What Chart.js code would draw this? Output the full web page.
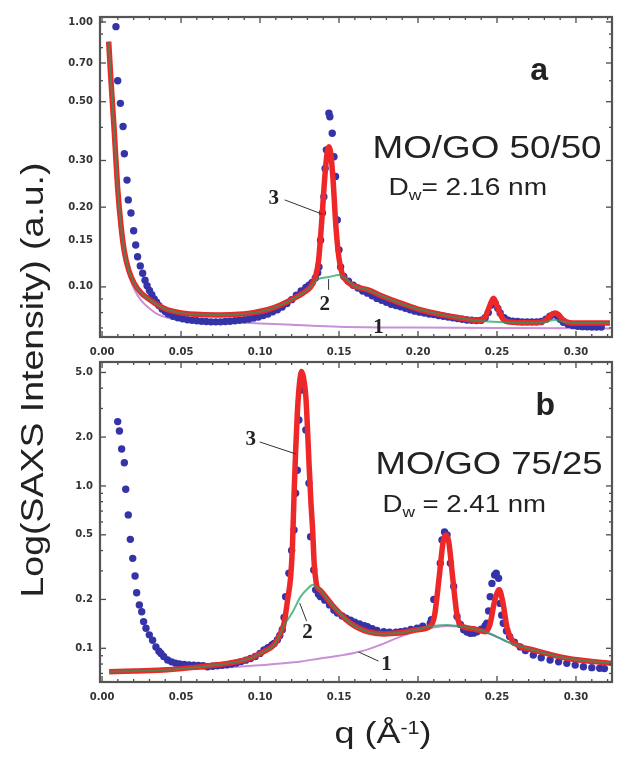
<!DOCTYPE html>
<html>
<head>
<meta charset="utf-8">
<script src="https://cdn.jsdelivr.net/npm/chart.js@4.4.0/dist/chart.umd.min.js"></script>
<style>
  body { margin: 0; background: #fff; }
  #wrap { position: relative; width: 619px; height: 757px; }
  canvas { position: absolute; left: 0; top: 0; }
</style>
</head>
<body>
<div id="wrap">
  <canvas id="panelB" width="619" height="757"></canvas>
  <canvas id="panelA" width="619" height="362"></canvas>
</div>
<script>
// ---- panel a : MO/GO 50/50 ----
const qBlueA = [0.0088,0.0099,0.0116,0.0133,0.0141,0.0158,0.0166,0.0183,0.0200,0.0213,
  0.0225,0.0242,0.0257,0.0272,0.0285,0.030,0.0315,0.033,0.0345,0.036,
  0.038,0.040,0.042,0.045,0.048,0.051,0.054,0.057,0.060,0.063,
  0.066,0.069,0.072,0.075,0.078,0.081,0.084,0.087,0.090,0.093,
  0.096,0.099,0.102,0.105,0.108,0.111,0.114,0.117,0.120,0.123,
  0.126,0.129,0.131,0.133,0.135,0.1365,0.1373,0.1383,0.1395,0.1404,
  0.1412,0.142,0.1436,0.1442,0.1457,0.1468,0.1478,0.1489,0.150,0.151,
  0.153,0.156,0.159,0.162,0.165,0.168,0.171,0.174,0.177,0.180,
  0.183,0.186,0.189,0.192,0.195,0.198,0.201,0.204,0.207,0.210,
  0.213,0.216,0.219,0.222,0.225,0.228,0.231,0.234,0.237,0.240,
  0.2425,0.2445,0.2465,0.2478,0.249,0.2505,0.252,0.2545,0.257,0.260,
  0.263,0.266,0.269,0.272,0.275,0.278,0.281,0.2835,0.2857,0.288,
  0.290,0.292,0.295,0.298,0.301,0.304,0.307,0.310,0.313,0.316];
const iBlueA = [0.96,0.60,0.493,0.403,0.318,0.253,0.213,0.190,0.163,0.144,
  0.130,0.120,0.1126,0.106,0.101,0.097,0.0935,0.090,0.0875,0.085,
  0.0825,0.0808,0.079,0.0775,0.0765,0.0758,0.0752,0.0748,0.0745,0.0742,
  0.074,0.0738,0.0738,0.0738,0.074,0.0742,0.0745,0.0748,0.0752,0.0757,
  0.0763,0.077,0.078,0.079,0.0805,0.082,0.084,0.0865,0.0895,0.093,
  0.0965,0.0995,0.1015,0.104,0.108,0.113,0.119,0.150,0.19,0.219,
  0.28,0.329,0.452,0.439,0.380,0.31,0.261,0.179,0.138,0.119,
  0.1096,0.105,0.1015,0.099,0.0965,0.0947,0.0925,0.0905,0.089,0.0875,
  0.086,0.085,0.0842,0.083,0.082,0.081,0.0803,0.0797,0.079,0.0786,
  0.078,0.0775,0.077,0.0765,0.076,0.0755,0.075,0.0748,0.0746,0.0748,
  0.0765,0.080,0.0855,0.088,0.0865,0.083,0.0797,0.0765,0.0748,0.0742,
  0.074,0.0738,0.0738,0.0738,0.0738,0.074,0.0755,0.0775,0.0786,0.0778,
  0.0755,0.0735,0.0722,0.0715,0.071,0.0708,0.0707,0.0706,0.0705,0.0705];

// curve 3 (total fit)
const qRedA = [0.0042,0.0055,0.0068,0.0078,0.0088,0.0099,0.012,0.0141,0.017,0.0204,
  0.025,0.0289,0.035,0.0415,0.05,0.0625,0.0736,0.0836,0.095,0.1047,
  0.113,0.1216,0.128,0.132,0.135,0.137,0.139,0.141,0.1425,0.1436,
  0.1447,0.1462,0.148,0.150,0.152,0.155,0.160,0.168,0.178,0.189,
  0.200,0.210,0.220,0.231,0.238,0.242,0.2455,0.2478,0.250,0.2535,
  0.257,0.265,0.275,0.281,0.2845,0.2868,0.289,0.292,0.296,0.305,0.3215];
const iRedA = [0.843,0.62,0.47,0.38,0.30,0.235,0.17,0.136,0.115,0.103,
  0.0945,0.0906,0.0855,0.082,0.0798,0.0786,0.0784,0.0786,0.0798,0.082,
  0.0855,0.0906,0.0955,0.1,0.109,0.125,0.175,0.26,0.322,0.338,
  0.322,0.255,0.17,0.128,0.112,0.105,0.1005,0.0976,0.092,0.0868,
  0.0825,0.0797,0.0775,0.0755,0.0745,0.076,0.085,0.0906,0.085,0.076,
  0.0738,0.0733,0.0733,0.075,0.0785,0.0797,0.0785,0.075,0.0733,0.073,0.0731];
// curve 2
const qGreenA = [0.0042,0.0055,0.0068,0.0078,0.0088,0.0099,0.012,0.0141,0.017,0.0204,
  0.025,0.0289,0.035,0.0415,0.05,0.0625,0.0736,0.0836,0.095,0.1047,
  0.113,0.1216,0.128,0.132,0.136,0.1436,0.150,0.153,0.160,0.168,
  0.178,0.189,0.200,0.210,0.220,0.231,0.238,0.2478,0.257,0.265,
  0.275,0.281,0.2868,0.292,0.305,0.3215];
const iGreenA = [0.843,0.62,0.47,0.38,0.30,0.235,0.17,0.136,0.115,0.103,
  0.0945,0.0906,0.0855,0.082,0.0798,0.0786,0.0784,0.0786,0.0798,0.082,
  0.0855,0.0906,0.0955,0.1,0.1065,0.109,0.111,0.109,0.1005,0.0976,
  0.092,0.0868,0.0825,0.0797,0.0775,0.0755,0.0745,0.0738,0.0735,0.0733,
  0.0733,0.0738,0.0752,0.0738,0.073,0.0731];
// curve 1
const qVioletA = [0.0042,0.0055,0.0068,0.0078,0.0088,0.0099,0.012,0.0141,0.017,0.0204,
  0.025,0.0289,0.035,0.0415,0.05,0.065,0.085,0.10,0.12,0.15,0.20,0.25,0.3215];
const iVioletA = [0.843,0.62,0.47,0.38,0.30,0.235,0.168,0.133,0.111,0.098,
  0.0885,0.084,0.079,0.0765,0.0748,0.074,0.0735,0.0728,0.072,0.0708,0.0702,0.0699,0.0697];

// ---- panel b : MO/GO 75/25 ----
const qBlueB = [0.0099,0.011,0.0124,0.0141,0.015,0.0166,0.0179,0.0194,0.0209,0.0219,
  0.0236,0.0251,0.0263,0.0278,0.0299,0.032,0.0341,0.036,0.0373,0.039,
  0.0415,0.044,0.0465,0.049,0.052,0.055,0.058,0.061,0.064,0.0668,
  0.070,0.073,0.076,0.079,0.082,0.085,0.088,0.091,0.094,0.097,
  0.100,0.1025,0.105,0.1075,0.1089,0.111,0.1125,0.1141,0.1152,0.1162,
  0.1183,0.120,0.1215,0.1225,0.1236,0.1246,0.1263,0.129,0.131,0.132,
  0.134,0.1352,0.137,0.1383,0.141,0.144,0.1467,0.149,0.152,0.1545,
  0.1573,0.160,0.163,0.166,0.168,0.171,0.174,0.1783,0.182,0.186,
  0.189,0.192,0.1955,0.1994,0.203,0.2078,0.2085,0.210,0.2141,0.2152,
  0.2168,0.2184,0.2205,0.2226,0.2247,0.2268,0.2289,0.231,0.233,0.2352,
  0.2373,0.240,0.2425,0.2436,0.2447,0.2457,0.2468,0.2485,0.2495,0.251,
  0.252,0.253,0.254,0.256,0.258,0.261,0.2647,0.268,0.273,0.278,
  0.2836,0.289,0.2942,0.2995,0.3047,0.310,0.315,0.318];
const iBlueB = [2.49,2.18,1.69,1.39,0.954,0.663,0.469,0.358,0.279,0.220,
  0.185,0.168,0.146,0.133,0.121,0.112,0.102,0.096,0.093,0.089,
  0.0847,0.0825,0.081,0.080,0.0795,0.079,0.0788,0.0785,0.078,0.077,
  0.0775,0.078,0.0785,0.0791,0.080,0.0812,0.0828,0.0845,0.0865,0.089,
  0.093,0.0976,0.101,0.105,0.107,0.113,0.12,0.13,0.155,0.208,
  0.29,0.40,0.536,0.902,1.25,2.55,3.90,2.21,1.04,0.487,
  0.304,0.229,0.215,0.208,0.198,0.185,0.172,0.165,0.158,0.153,
  0.149,0.145,0.141,0.138,0.136,0.132,0.129,0.1265,0.1255,0.1255,
  0.1265,0.128,0.1305,0.133,0.137,0.1425,0.15,0.20,0.334,0.465,
  0.52,0.499,0.334,0.24,0.157,0.14,0.13,0.126,0.1237,0.124,
  0.1265,0.131,0.138,0.1425,0.17,0.208,0.251,0.283,0.29,0.27,
  0.189,0.16,0.1425,0.128,0.118,0.109,0.102,0.097,0.091,0.0875,
  0.0847,0.0825,0.0808,0.0788,0.077,0.076,0.0753,0.075];

const qRedB = [0.0045,0.02,0.0415,0.06,0.073,0.085,0.094,0.102,0.1089,0.1125,
  0.1152,0.1175,0.1194,0.1205,0.1215,0.1225,0.1236,0.125,0.1263,0.1276,
  0.129,0.130,0.131,0.1322,0.1333,0.1343,0.1352,0.136,0.138,0.1467,
  0.1573,0.168,0.1783,0.189,0.1994,0.2078,0.2105,0.2135,0.216,0.2177,
  0.2195,0.222,0.2247,0.227,0.235,0.2426,0.2455,0.2485,0.2514,0.2538,
  0.2563,0.2595,0.2635,0.273,0.2942,0.3226];
const iRedB = [0.0718,0.0725,0.0737,0.0765,0.0791,0.0825,0.0868,0.095,0.105,0.121,
  0.1425,0.20,0.276,0.42,0.86,1.6,2.8,4.3,5.06,4.6,
  3.55,2.3,1.38,0.8,0.536,0.33,0.27,0.24,0.228,0.18,
  0.1425,0.1265,0.1225,0.1245,0.13,0.137,0.16,0.28,0.46,0.499,
  0.45,0.27,0.16,0.139,0.132,0.1265,0.14,0.195,0.229,0.19,
  0.135,0.112,0.104,0.0976,0.0868,0.0808];
const qGreenB = [0.0045,0.02,0.0415,0.06,0.073,0.085,0.094,0.102,0.1089,0.1125,
  0.1152,0.1173,0.121,0.1257,0.130,0.1335,0.136,0.138,0.1467,0.1573,
  0.168,0.1783,0.189,0.1994,0.2078,0.2141,0.2184,0.224,0.235,0.2426,
  0.2514,0.2563,0.2595,0.2635,0.273,0.2942,0.3226];
const iGreenB = [0.0718,0.0725,0.0737,0.0765,0.0791,0.0825,0.0868,0.095,0.105,0.121,
  0.14,0.149,0.17,0.208,0.232,0.246,0.238,0.228,0.18,0.1425,
  0.1265,0.1225,0.1245,0.13,0.137,0.1385,0.139,0.1375,0.132,0.1265,
  0.116,0.11,0.107,0.104,0.0976,0.0868,0.0808];
const qVioletB = [0.0045,0.03,0.055,0.08,0.10,0.113,0.126,0.138,0.150,0.1636,
  0.175,0.189,0.20,0.2141,0.2184,0.225,0.235,0.2426,0.2514,0.2563,
  0.2635,0.273,0.2942,0.3226];
const iVioletB = [0.0718,0.0728,0.0745,0.0765,0.0785,0.0805,0.083,0.0865,0.09,0.0955,
  0.104,0.118,0.128,0.136,0.137,0.136,0.131,0.1255,0.116,0.11,
  0.104,0.0976,0.0868,0.0808];

// ticks
const xTicks = [0, 0.05, 0.10, 0.15, 0.20, 0.25, 0.30];
const yTicksA = [0.10, 0.15, 0.20, 0.30, 0.50, 0.70, 1.00];
const yTicksB = [0.1, 0.2, 0.5, 1.0, 2.0, 5.0];

const SANS = '"Liberation Sans", Arial, sans-serif';
const SERIF = 'bold 21px "Liberation Serif", "Times New Roman", serif';
const TICKFONT = { family: '"DejaVu Sans", sans-serif', size: 10, weight: 'bold' };

function pts(qs, vs) {
  return qs.map((q, i) => ({ x: q, y: vs[i] }));
}

function drawParts(ctx, parts, x, y, sx, align) {
  ctx.save();
  ctx.translate(x, y);
  ctx.scale(sx || 1, 1);
  let w = 0;
  parts.forEach(p => { ctx.font = p[1]; w += ctx.measureText(p[0]).width; });
  let cx = align === 'center' ? -w / 2 : 0;
  ctx.textAlign = 'left';
  ctx.textBaseline = 'alphabetic';
  parts.forEach(p => {
    ctx.font = p[1];
    ctx.fillText(p[0], cx, p[2]);
    cx += ctx.measureText(p[0]).width;
  });
  ctx.restore();
}

// frame with inward ticks on all four sides
const frameTicks = {
  id: 'frameTicks',
  afterDatasetsDraw(chart, args, opts) {
    const { ctx, chartArea: a, scales: { x, y } } = chart;
    ctx.save();
    ctx.strokeStyle = '#4a4a4a';
    ctx.lineWidth = 1.3;
    const seg = (x1, y1, x2, y2) => { ctx.beginPath(); ctx.moveTo(x1, y1); ctx.lineTo(x2, y2); ctx.stroke(); };
    for (let k = 0; k <= 33; k++) {
      const px = x.getPixelForValue(k / 100);
      if (px < a.left || px > a.right) continue;
      const len = k % 5 === 0 ? 6 : 3;
      seg(px, a.bottom, px, a.bottom - len);
      seg(px, a.top, px, a.top + len);
    }
    const lo = Math.floor(Math.log10(y.min)), hi = Math.ceil(Math.log10(y.max));
    for (let e = lo; e <= hi; e++) {
      for (let m = 1; m <= 9; m++) {
        const v = m * Math.pow(10, e);
        if (v < y.min || v > y.max) continue;
        const py = y.getPixelForValue(v);
        const len = opts.major.some(t => Math.abs(t - v) < 1e-9) ? 6 : 3;
        seg(a.left, py, a.left + len, py);
        seg(a.right, py, a.right - len, py);
      }
    }
    ctx.lineWidth = 2.2;
    ctx.strokeStyle = '#555';
    ctx.strokeRect(a.left, a.top, a.right - a.left, a.bottom - a.top);
    ctx.restore();
  }
};

// labels placed in data coordinates
const notes = {
  id: 'notes',
  afterDatasetsDraw(chart, args, opts) {
    const { ctx, scales: { x, y } } = chart;
    ctx.save();
    ctx.fillStyle = '#222';
    ctx.strokeStyle = '#333';
    ctx.lineWidth = 1;
    opts.leaders.forEach(l => {
      ctx.beginPath();
      ctx.moveTo(x.getPixelForValue(l[0]), y.getPixelForValue(l[1]));
      ctx.lineTo(x.getPixelForValue(l[2]), y.getPixelForValue(l[3]));
      ctx.stroke();
    });
    opts.items.forEach(n => {
      drawParts(ctx, n.parts, x.getPixelForValue(n.q), y.getPixelForValue(n.v), n.sx, n.align);
    });
    ctx.restore();
  }
};

// shared axis titles (drawn on the full-height canvas)
const titles = {
  id: 'titles',
  afterDraw(chart) {
    const ctx = chart.ctx;
    ctx.save();
    ctx.fillStyle = '#222';
    ctx.translate(43, 380);
    ctx.rotate(-Math.PI / 2);
    drawParts(ctx, [['Log(SAXS Intensity) (a.u.)', '32px ' + SANS, 0]], 0, 0, 1.17, 'center');
    ctx.restore();
    ctx.save();
    ctx.fillStyle = '#222';
    drawParts(ctx, [['q (Å', '30px ' + SANS, 0], ['-1', '18px ' + SANS, -9], [')', '30px ' + SANS, 0]],
      383, 743, 1.2, 'center');
    ctx.restore();
  }
};

function datasets(qb, ib, qr, ir, qg, ig, qv, iv) {
  const line = { showLine: true, pointRadius: 0, cubicInterpolationMode: 'monotone', fill: false };
  return [
    Object.assign({ data: pts(qg, ig), borderColor: 'rgba(28,160,95,0.72)', borderWidth: 2, order: 0 }, line),
    Object.assign({ data: pts(qr, ir), borderColor: '#ee2828', borderWidth: 5.5, order: 1 }, line),
    { data: pts(qb, ib), showLine: false, pointRadius: 3.7, pointBackgroundColor: '#3434a8',
      pointBorderWidth: 0, order: 2 },
    Object.assign({ data: pts(qv, iv), borderColor: '#c890d6', borderWidth: 2, order: 3 }, line)
  ];
}

function makePanel(id, sets, yMin, yMax, yTicks, dec, padTop, xHeight, noteOpts, extraPlugins) {
  return new Chart(document.getElementById(id), {
    type: 'scatter',
    data: { datasets: sets },
    options: {
      responsive: false,
      animation: false,
      devicePixelRatio: 1,
      layout: { padding: { top: padTop, right: 7, left: 0, bottom: 0 } },
      plugins: {
        legend: { display: false },
        tooltip: { enabled: false },
        frameTicks: { major: yTicks },
        notes: noteOpts
      },
      scales: {
        x: {
          type: 'linear', min: -0.0013, max: 0.3228,
          grid: { display: false, drawTicks: false }, border: { display: false },
          afterBuildTicks: s => { s.ticks = xTicks.map(v => ({ value: v })); },
          afterFit: s => { s.height = xHeight; },
          ticks: { autoSkip: false, maxRotation: 0, padding: 9, color: '#333', font: TICKFONT,
            callback: v => Number(v).toFixed(2) }
        },
        y: {
          type: 'logarithmic', min: yMin, max: yMax,
          grid: { display: false, drawTicks: false }, border: { display: false },
          afterBuildTicks: s => { s.ticks = yTicks.map(v => ({ value: v })); },
          afterFit: s => { s.width = 100; },
          ticks: { autoSkip: false, padding: 7, color: '#333', font: TICKFONT,
            callback: v => Number(v).toFixed(dec) }
        }
      }
    },
    plugins: [frameTicks, notes].concat(extraPlugins || [])
  });
}

const S32 = '32px ' + SANS, S24 = '24px ' + SANS, S15 = '15px ' + SANS, BOLD = 'bold 32px ' + SANS;

makePanel('panelB', datasets(qBlueB, iBlueB, qRedB, iRedB, qGreenB, iGreenB, qVioletB, iVioletB),
  0.062, 5.8, yTicksB, 1, 362, 75, {
    items: [
      { parts: [['b', BOLD, 0]], q: 0.2805, v: 2.74, align: 'center' },
      { parts: [['MO/GO 75/25', S32, 0]], q: 0.1731, v: 1.186, sx: 1.14 },
      { parts: [['D', S24, 0], ['w', S15, 5], [' = 2.41 nm', S24, 0]], q: 0.1775, v: 0.694, sx: 1.15 },
      { parts: [['3', SERIF, 0]], q: 0.0941, v: 1.79, align: 'center' },
      { parts: [['2', SERIF, 0]], q: 0.1301, v: 0.116, align: 'center' },
      { parts: [['1', SERIF, 0]], q: 0.180, v: 0.0735, align: 'center' }
    ],
    leaders: [[0.0998, 1.866, 0.1226, 1.575], [0.1251, 0.19, 0.1295, 0.147], [0.1624, 0.0949, 0.175, 0.0834]]
  }, [titles]);

makePanel('panelA', datasets(qBlueA, iBlueA, qRedA, iRedA, qGreenA, iGreenA, qVioletA, iVioletA),
  0.0647, 1.044, yTicksA, 2, 17, 25, {
    items: [
      { parts: [['a', BOLD, 0]], q: 0.2767, v: 0.604, align: 'center' },
      { parts: [['MO/GO 50/50', S32, 0]], q: 0.1712, v: 0.307, sx: 1.15 },
      { parts: [['D', S24, 0], ['w', S15, 5], ['= 2.16 nm', S24, 0]], q: 0.1813, v: 0.222, sx: 1.17 },
      { parts: [['3', SERIF, 0]], q: 0.1087, v: 0.206, align: 'center' },
      { parts: [['2', SERIF, 0]], q: 0.1409, v: 0.0818, align: 'center' },
      { parts: [['1', SERIF, 0]], q: 0.175, v: 0.0669, align: 'center' }
    ],
    leaders: [[0.1156, 0.213, 0.1396, 0.188], [0.1434, 0.107, 0.1434, 0.0975]]
  });
</script>
</body>
</html>
